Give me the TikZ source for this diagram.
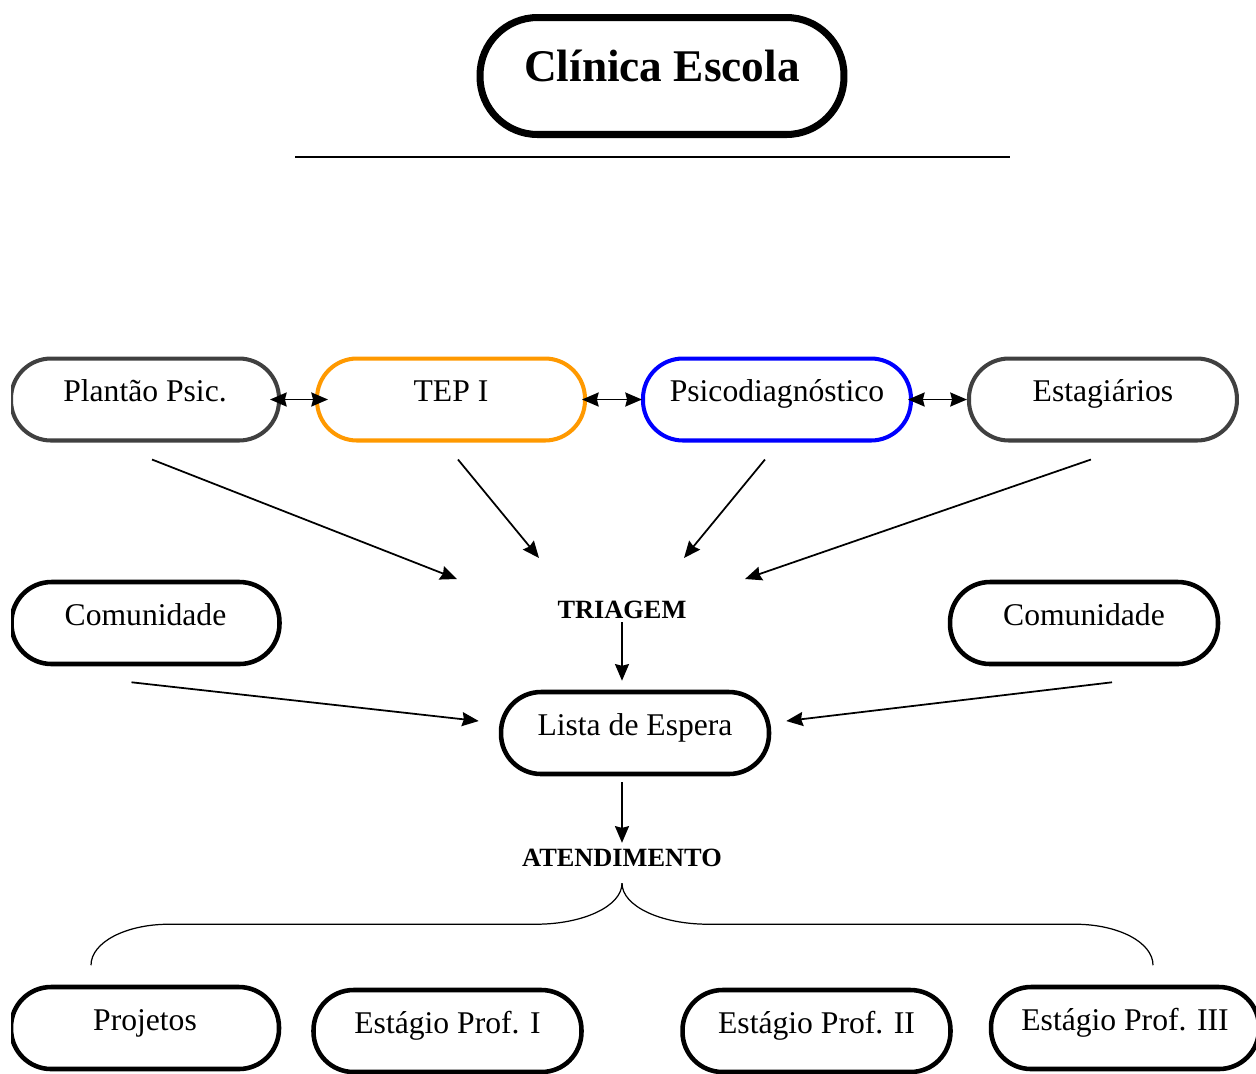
\documentclass[tikz,border=0pt]{standalone}
\usepackage{fontspec}
\setmainfont{Liberation Serif}
\usetikzlibrary{arrows.meta,positioning,calc}
\definecolor{darkgrey}{RGB}{64,64,64}
\definecolor{tepOrange}{RGB}{255,153,0}
\tikzset{
    stage/.style={
        rectangle,
        rounded corners=0.8cm,
        draw=black,
        line width=2.6pt,
        fill=white,
        minimum width=5.36cm,
        minimum height=1.64cm,
        font=\fontsize{18}{20}\selectfont,
        text height=12pt,
        text depth=9.7pt,
    },
    greystage/.style={stage, draw=darkgrey, line width=2.3pt},
    tepstage/.style={stage, draw=tepOrange, line width=2.3pt},
    psicostage/.style={stage, draw=blue, line width=2.3pt},
    title/.style={
        rectangle,
        rounded corners=1.15cm,
        draw=black,
        line width=4pt,
        minimum width=7.28cm,
        minimum height=2.34cm,
        font=\fontsize{25.8}{28}\selectfont\bfseries,
        text height=20pt,
        text depth=13.2pt,
    },
    step label/.style={
        inner sep=0pt,
        font=\fontsize{15}{17}\selectfont\bfseries,
    },
    arr/.style={-{Stealth[length=9.5pt,width=8pt,inset=1pt]}, line width=1pt},
    darr/.style={{Stealth[length=9.5pt,width=8pt,inset=1pt]}-{Stealth[length=9.5pt,width=8pt,inset=1pt]}, line width=1pt},
}

\begin{document}
\begin{tikzpicture}[x=0.02cm,y=-0.02cm]
    \useasboundingbox (0,0) rectangle (1256,1073);
    \begin{scope}
    \clip (11,0) rectangle (1256,1073);

    \node [title] (clinica) at (662,76) {Clínica Escola};
    \draw [line width=1.2pt] (295,157) -- (1010,157);

    \node [greystage] (plantao) at (145,399.5) {Plantão Psic.};
    \node [tepstage, right=0.68cm of plantao] (tep) {TEP I};
    \node [psicostage, right=1.08cm of tep] (psico) {Psicodiagnóstico};
    \node [greystage, right=1.08cm of psico] (estag) {Estagiários};

    \node [step label] (triagem) at (622,610) {TRIAGEM};
    \node [stage] (comL) at (145.5,623) {Comunidade};
    \node [stage] (comR) at (1084,623) {Comunidade};
    \node [stage] (lista) at (635,733) {Lista de Espera};
    \node [step label] (atend) at (622,858) {ATENDIMENTO};

    \node [stage] (projetos) at (145,1028) {Projetos};
    \node [stage] (prof1) at (447.5,1031) {Estágio Prof. I};
    \node [stage] (prof2) at (816.5,1031) {Estágio Prof. II};
    \node [stage] (prof3) at (1125,1028) {Estágio Prof. III};

    \draw [darr, shorten <=-0.22cm, shorten >=-0.26cm] (plantao.east) -- (tep.west);
    \draw [darr, shorten <=-0.1cm, shorten >=-0.02cm] (tep.east) -- (psico.west);
    \draw [darr, shorten <=-0.1cm] (psico.east) -- (estag.west);

    \draw [arr] ($(plantao.south)+(7,17)$) -- ($(triagem)+(-165,-31)$);
    \draw [arr] ($(tep.south)+(7,17)$) -- ($(triagem)+(-83,-52)$);
    \draw [arr] ($(psico.south)+(-12,17)$) -- ($(triagem)+(62,-52)$);
    \draw [arr] ($(estag.south)+(-12,17)$) -- ($(triagem)+(123,-31)$);

    \draw [arr, shorten <=0.06cm, shorten >=0.18cm] (triagem.south) -- (triagem.south |- lista.north);
    \draw [arr] ($(comL.south)+(-14,16)$) -- ($(lista.west)+(-20,-12)$);
    \draw [arr] ($(comR.south)+(28,16)$) -- ($(lista.east)+(15,-12)$);
    \draw [arr, shorten <=0.12cm, shorten >=0.12cm] (lista.south -| atend) -- (atend.north);

    \coordinate (peak) at ($(atend.south)+(0,16)$);
    \draw [line width=0.7pt] (peak) .. controls +(0,23) and +(47,0) .. ++(-86,41) -- ++(-367,0) .. controls +(-43,0) and +(0,-23) .. ++(-78,41);
    \draw [line width=0.7pt] (peak) .. controls +(0,23) and +(-47,0) .. ++(86,41) -- ++(367,0) .. controls +(43,0) and +(0,-23) .. ++(78,41);
    \end{scope}
\end{tikzpicture}
\end{document}
